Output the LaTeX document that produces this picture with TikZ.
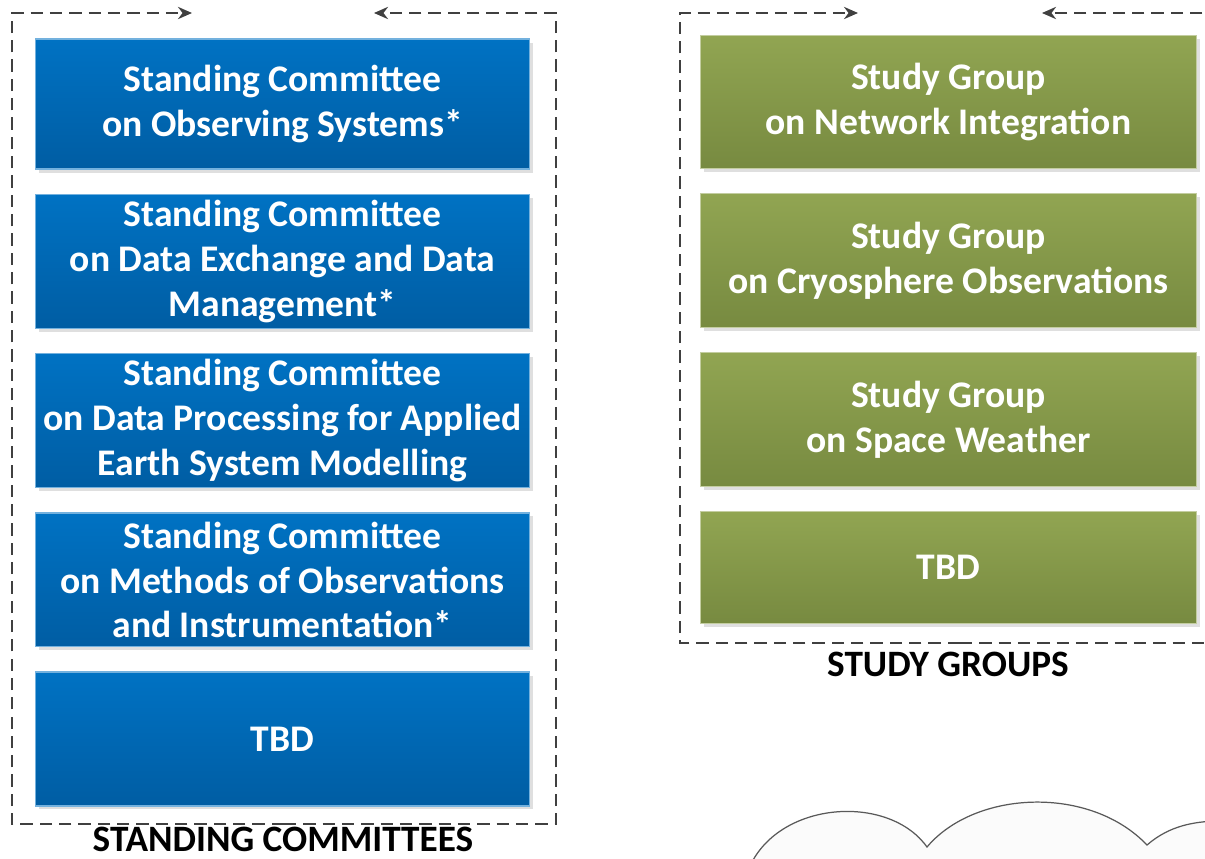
\documentclass[tikz,border=0pt]{standalone}
\usepackage{fontspec}
\setmainfont{Carlito}
\usetikzlibrary{positioning,arrows.meta,shadows}

\definecolor{sctop}{HTML}{0072C3}
\definecolor{scbot}{HTML}{005DA3}
\definecolor{sgtop}{HTML}{91A552}
\definecolor{sgbot}{HTML}{778A40}
\definecolor{framegray}{HTML}{404040}

\tikzset{
  box/.style={rectangle, minimum width=9.9cm, minimum height=2.68cm,
    align=center, text=white, line width=0.6pt,
    font=\fontsize{21.4}{25.6}\selectfont\bfseries,
    drop shadow={shadow xshift=2pt, shadow yshift=-2pt, opacity=0.25}},
  scbox/.style={box, top color=sctop, bottom color=scbot, draw=sctop!55!white},
  sgbox/.style={box, top color=sgtop, bottom color=sgbot, draw=sgtop!55!white},
  frame/.style={draw=framegray, line width=1pt, dash pattern=on 7pt off 4pt,
    -{Stealth[length=8pt,width=7pt]}},
  grouplabel/.style={font=\fontsize{21.2}{24}\selectfont\bfseries, text=black,
    anchor=base, text depth=0pt, inner ysep=0pt}
}

\begin{document}
\begin{tikzpicture}[x=0.02cm, y=-0.02cm, node distance=0.48cm]
    \useasboundingbox (0,0) rectangle (1205,859);
    \clip (0,0) rectangle (1205,859);

    % Standing committees
    \node[scbox, minimum height=2.6cm] (sc1) at (282.5,104) {Standing Committee\\on Observing Systems*};
    \node[scbox, below=of sc1] (sc2) {Standing Committee\\on Data Exchange and Data\\Management*};
    \node[scbox, below=of sc2] (sc3) {Standing Committee\\on Data Processing for Applied\\Earth System Modelling};
    \node[scbox, below=of sc3] (sc4) {Standing Committee\\on Methods of Observations\\and Instrumentation*};
    \node[scbox, below=of sc4] (sc5) {TBD};

    % Study groups
    \node[sgbox, minimum width=9.94cm, minimum height=2.66cm] (sg1) at (948.5,102) {Study Group\\on Network Integration};
    \node[sgbox, minimum width=9.94cm, below=of sg1] (sg2) {Study Group\\on Cryosphere Observations};
    \node[sgbox, minimum width=9.94cm, below=of sg2] (sg3) {Study Group\\on Space Weather};
    \node[sgbox, minimum width=9.94cm, minimum height=2.24cm, below=of sg3] (sg4) {TBD};

    % Dashed frames, open at the top
    \draw[frame] (284,824) -- (12,824) -- (12,13) -- (192,13);
    \draw[frame] (284,824) -- (556,824) -- (556,13) -- (374,13);
    \draw[frame] (960,643) -- (680,643) -- (680,13) -- (858,13);
    \draw[frame] (960,643) -- (1230,643) -- (1230,13) -- (1042,13);

    % Group labels
    \node[grouplabel] (sclabel) at (283,851) {STANDING COMMITTEES};
    \node[grouplabel] (sglabel) at (948,676) {STUDY GROUPS};

    % Cloud
    \draw[fill=gray!3, draw=black!65, line width=0.7pt]
        (752,870) -- (752,862)
        .. controls (785,800) and (890,795) .. (927,847)
        .. controls (975,790) and (1090,785) .. (1147,845)
        .. controls (1170,825) and (1195,822) .. (1215,821)
        -- (1215,870) -- cycle;
\end{tikzpicture}
\end{document}
